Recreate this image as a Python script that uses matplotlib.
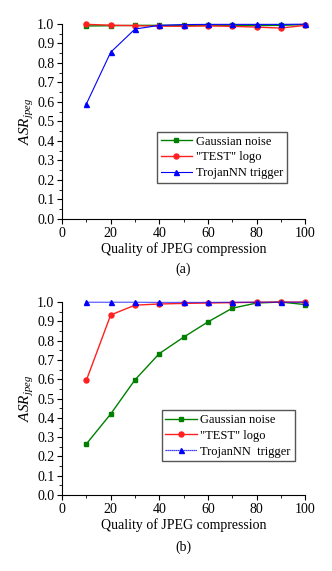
import numpy as np
import matplotlib.pyplot as plt

quality = [10, 20, 30, 40, 50, 60, 70, 80, 90, 100]

# panel (a)
gauss_a = [0.990, 0.991, 0.993, 0.993, 0.993, 0.993, 0.993, 0.992, 0.993, 0.997]
test_a = [0.998, 0.994, 0.991, 0.989, 0.988, 0.990, 0.988, 0.984, 0.979, 0.993]
trojan_a = [0.590, 0.855, 0.974, 0.993, 0.997, 0.998, 0.998, 0.998, 0.998, 0.999]

# panel (b)
gauss_b = [0.265, 0.420, 0.597, 0.733, 0.818, 0.897, 0.968, 0.995, 1.000, 0.987]
test_b = [0.595, 0.933, 0.984, 0.990, 0.993, 0.995, 0.997, 0.999, 1.000, 1.000]
trojan_b = [0.999, 0.999, 0.999, 0.998, 0.998, 0.998, 0.999, 0.999, 0.999, 0.999]

plt.rcParams['font.family'] = ['Liberation Serif', 'DejaVu Serif']
plt.rcParams['mathtext.fontset'] = 'custom'
plt.rcParams['mathtext.it'] = 'Liberation Serif:italic'
plt.rcParams['mathtext.rm'] = 'Liberation Serif'

fig = plt.figure(figsize=(3.32, 5.71), dpi=100)
ax1 = fig.add_axes([0.187, 0.6165, 0.732, 0.3415])
ax2 = fig.add_axes([0.187, 0.133, 0.732, 0.338])


def style(ax, tag, tag_y):
    ax.set_xlim(0, 100)
    ax.set_ylim(0, 1.0)
    ax.spines['top'].set_visible(False)
    ax.spines['right'].set_visible(False)
    ax.set_xticks(np.arange(0, 101, 20))
    ax.set_xticks(np.arange(10, 100, 20), minor=True)
    ax.set_yticks(np.arange(0, 1.01, 0.1))
    ax.set_yticks(np.arange(0.05, 1.0, 0.1), minor=True)
    ax.yaxis.set_major_formatter(plt.FormatStrFormatter('%.1f'))
    ax.tick_params(which='major', direction='out', length=3.5, width=0.8, labelsize=10, pad=2)
    ax.tick_params(which='minor', direction='out', length=2, width=0.6)
    ax.set_xlabel('Quality of JPEG compression', fontsize=10, labelpad=2)
    ax.set_ylabel(r'$ASR_{jpeg}$', fontsize=11, labelpad=1)
    ax.text(0.5, tag_y, tag, transform=ax.transAxes, ha='center', va='top', fontsize=10)


leg_kw = dict(loc='lower left', fontsize=9, frameon=True, fancybox=False,
              edgecolor='#555555', framealpha=1, borderpad=0.3,
              handlelength=2.5, handletextpad=0.3, labelspacing=0.3, borderaxespad=0)

ax1.plot(quality, gauss_a, color='#008000', marker='s', ms=3.2, lw=1, label='Gaussian noise', clip_on=False)
ax1.plot(quality, test_a, color='#ff2020', marker='o', ms=3.6, lw=1, label='"TEST" logo', clip_on=False)
ax1.plot(quality, trojan_a, color='#0000ff', marker='^', ms=3.6, lw=0.8, label='TrojanNN trigger', clip_on=False)
style(ax1, '(a)', -0.225)
ax1.legend(bbox_to_anchor=(0.39, 0.185), **leg_kw)

ax2.plot(quality, gauss_b, color='#008000', marker='s', ms=3.2, lw=1, label='Gaussian noise', clip_on=False)
ax2.plot(quality, test_b, color='#ff2020', marker='o', ms=3.6, lw=1, label='"TEST" logo', clip_on=False)
ax2.plot(quality, trojan_b, color='#0000ff', marker='^', ms=3.6, lw=0.9, ls=(0, (1, 0.6)),
         label='TrojanNN  trigger', clip_on=False)
style(ax2, '(b)', -0.235)
ax2.legend(bbox_to_anchor=(0.41, 0.175), **leg_kw)

fig.savefig('out.png', dpi=100)
